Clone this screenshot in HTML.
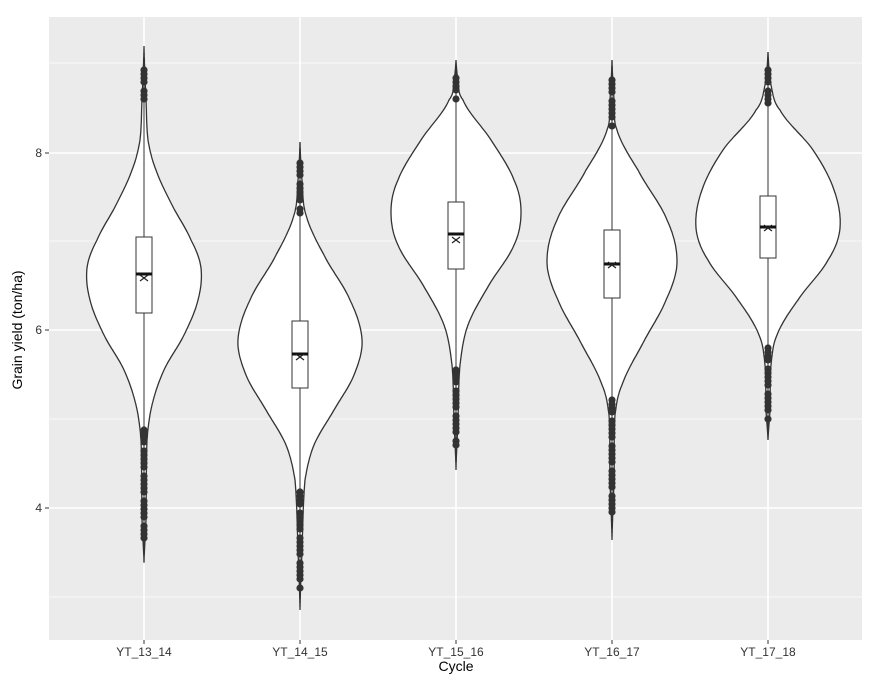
<!DOCTYPE html>
<html><head><style>body{margin:0;background:#fff}svg{display:block}</style></head><body>
<svg id="s" width="882" height="692" xmlns="http://www.w3.org/2000/svg" font-family="Liberation Sans, sans-serif">
<rect x="49" y="17" width="813" height="623" fill="#ebebeb"/>
<g stroke="#fff" stroke-width="0.8">
<line x1="49" x2="862" y1="63" y2="63"/><line x1="49" x2="862" y1="241" y2="241"/><line x1="49" x2="862" y1="419" y2="419"/><line x1="49" x2="862" y1="597" y2="597"/>
</g>
<g stroke="#fff" stroke-width="1.6">
<line x1="49" x2="862" y1="153" y2="153"/><line x1="49" x2="862" y1="330" y2="330"/><line x1="49" x2="862" y1="508" y2="508"/>
<line x1="144" x2="144" y1="17" y2="640"/><line x1="300" x2="300" y1="17" y2="640"/><line x1="456" x2="456" y1="17" y2="640"/><line x1="612" x2="612" y1="17" y2="640"/><line x1="768" x2="768" y1="17" y2="640"/>
</g>
<g id="v"></g>
<g stroke="#333" stroke-width="1">
<line x1="45" x2="49" y1="153" y2="153"/><line x1="45" x2="49" y1="330" y2="330"/><line x1="45" x2="49" y1="508" y2="508"/>
<line x1="144" x2="144" y1="640" y2="644"/><line x1="300" x2="300" y1="640" y2="644"/><line x1="456" x2="456" y1="640" y2="644"/><line x1="612" x2="612" y1="640" y2="644"/><line x1="768" x2="768" y1="640" y2="644"/>
</g>
<g fill="#333" font-size="12">
<text x="42" y="157" text-anchor="end">8</text><text x="42" y="334" text-anchor="end">6</text><text x="42" y="512" text-anchor="end">4</text>
<text x="144" y="656" text-anchor="middle">YT_13_14</text><text x="300" y="656" text-anchor="middle">YT_14_15</text><text x="456" y="656" text-anchor="middle">YT_15_16</text><text x="612" y="656" text-anchor="middle">YT_16_17</text><text x="768" y="656" text-anchor="middle">YT_17_18</text>
</g>
<text x="456" y="671" text-anchor="middle" font-size="14" fill="#000">Cycle</text>
<text transform="translate(22,330) rotate(-90)" text-anchor="middle" font-size="14" fill="#000">Grain yield (ton/ha)</text>
</svg>
<script>
var V=[
{x:144,p:[[46,0],[100,2],[140,4],[170,12],[205,28],[240,47],[268,57],[300,54],[335,40],[370,20],[405,8],[440,3],[520,2],[563,0]],b:[237,313,274,278],w:[46,563],o:[[70,100],[430,540]]},
{x:300,p:[[142,0],[180,2],[215,6],[255,24],[300,50],[340,62],[375,54],[410,34],[445,14],[480,5],[550,2],[610,0]],b:[321,388,354,357],w:[142,610],o:[[163,215],[492,590]]},
{x:456,p:[[60,0],[80,2],[100,7],[140,35],[180,58],[212,65],[245,58],[285,33],[325,12],[365,4],[420,2],[470,0]],b:[202,269,234,240],w:[60,470],o:[[78,100],[370,445]]},
{x:612,p:[[60,0],[100,2],[130,5],[170,26],[220,55],[262,65],[300,54],[345,30],[385,10],[415,3],[480,2],[540,0]],b:[230,298,264,265],w:[60,540],o:[[80,128],[400,520]]},
{x:768,p:[[52,0],[85,3],[110,12],[150,45],[190,66],[228,72],[260,60],[300,30],[335,9],[365,3],[410,2],[440,0]],b:[196,258,227,228],w:[52,440],o:[[70,105],[348,420]]}
];
function interp(p,y){for(var i=0;i<p.length-1;i++){if(y>=p[i][0]&&y<=p[i+1][0]){var a=p[Math.max(0,i-1)],b=p[i],c=p[i+1],d=p[Math.min(p.length-1,i+2)];var t=(y-b[0])/(c[0]-b[0]);var m1=(c[1]-a[1])/2,m2=(d[1]-b[1])/2;var t2=t*t,t3=t2*t;return Math.max(0,(2*t3-3*t2+1)*b[1]+(t3-2*t2+t)*m1+(-2*t3+3*t2)*c[1]+(t3-t2)*m2);}}return 0;}
var g=document.getElementById('v'),h='';
V.forEach(function(v){var y0=v.p[0][0],y1=v.p[v.p.length-1][0],L=[],R=[];
for(var y=y0;y<=y1;y+=2){var w=interp(v.p,y);L.push((v.x-w).toFixed(1)+','+y);R.unshift((v.x+w).toFixed(1)+','+y);}
h+='<polygon points="'+L.concat(R).join(' ')+'" fill="#fff" stroke="#333" stroke-width="1.3"/>';
h+='<line x1="'+v.x+'" x2="'+v.x+'" y1="'+v.w[0]+'" y2="'+v.w[1]+'" stroke="#333" stroke-width="1"/>';
v.o.forEach(function(o){var k=0;for(var y=o[0];y<=o[1];y+=(k%5==4?9:4)){k++;h+='<circle cx="'+v.x+'" cy="'+y+'" r="3.6" fill="#333"/>';}});
h+='<rect x="'+(v.x-8)+'" y="'+v.b[0]+'" width="16" height="'+(v.b[1]-v.b[0])+'" fill="#fff" stroke="#333" stroke-width="1"/>';
h+='<line x1="'+(v.x-8)+'" x2="'+(v.x+8)+'" y1="'+v.b[2]+'" y2="'+v.b[2]+'" stroke="#111" stroke-width="3"/>';
var c=v.b[3];h+='<path d="M'+(v.x-4)+','+(c-3)+'L'+(v.x+4)+','+(c+3)+'M'+(v.x-4)+','+(c+3)+'L'+(v.x+4)+','+(c-3)+'" stroke="#222" stroke-width="1.2"/>';
});
g.innerHTML=h;
</script>
</body></html>
